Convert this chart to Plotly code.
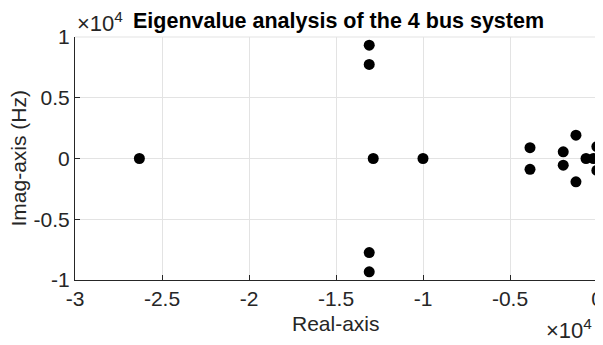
import plotly.graph_objects as go

# Eigenvalues (real part, imaginary part in Hz)
real_part = [-26300, -13090, -13090, -12860, -13090, -13090, -10000,
             -3850, -3850, -1940, -1940, -1210, -1210, -630, -210, -10, -10]
imag_part = [0, 9330, 7740, 0, -7740, -9330, 0,
             890, -890, 550, -550, 1920, -1920, 0, 0, 980, -980]

x_tickvals = [-30000, -25000, -20000, -15000, -10000, -5000, 0]
x_ticktext = ["-3", "-2.5", "-2", "-1.5", "-1", "-0.5", "0"]
y_tickvals = [-10000, -5000, 0, 5000, 10000]
y_ticktext = ["-1", "-0.5", "0", "0.5", "1"]

FONT = "Liberation Sans, Arial, sans-serif"
TXT = "#262626"
GRID = "#e3e3e3"

fig = go.Figure()
fig.add_trace(go.Scatter(
    x=real_part, y=imag_part, mode="markers",
    marker=dict(color="black", size=11, line=dict(width=0)),
    cliponaxis=False, showlegend=False,
))

# page body has an 8px margin, so the figure is 595x337
fig.update_layout(
    width=595, height=337,
    margin=dict(l=67, r=6, t=29, b=65),
    paper_bgcolor="white", plot_bgcolor="white",
    font=dict(family=FONT, size=21, color=TXT),
    xaxis=dict(range=[-30000, 0], tickvals=x_tickvals, ticktext=x_ticktext,
               automargin=False,
               showline=True, linecolor=TXT, linewidth=1, mirror=False,
               ticks="inside", ticklen=5, tickcolor=TXT,
               showgrid=True, gridcolor=GRID, zeroline=False,
               tickfont=dict(size=21, color=TXT)),
    yaxis=dict(range=[-10000, 10000], tickvals=y_tickvals, ticktext=y_ticktext,
               automargin=False,
               showline=True, linecolor=TXT, linewidth=1, mirror=False,
               ticks="inside", ticklen=5, tickcolor=TXT,
               showgrid=True, gridcolor=GRID, zeroline=False,
               tickfont=dict(size=21, color=TXT)),
    annotations=[
        # title
        dict(text="<b>Eigenvalue analysis of the 4 bus system</b>",
             xref="paper", yref="paper", x=0.107, y=1, xanchor="left",
             yanchor="bottom", yshift=2, showarrow=False,
             font=dict(size=21.5, color="black")),
        # axis titles
        dict(text="Real-axis", xref="paper", yref="paper", x=0.5, y=0,
             xanchor="center", yanchor="middle", yshift=-43, showarrow=False,
             font=dict(size=21, color=TXT)),
        dict(text="Imag-axis (Hz)", xref="paper", yref="paper", x=0, y=0.5,
             xanchor="center", yanchor="middle", xshift=-57, textangle=-90,
             showarrow=False, font=dict(size=21, color=TXT)),
        # exponent labels
        dict(text="×10<sup>4</sup>", xref="paper", yref="paper", x=0, y=1,
             xanchor="left", yanchor="bottom", yshift=-1, showarrow=False,
             font=dict(size=22, color=TXT)),
        dict(text="×10<sup>4</sup>", xref="paper", yref="paper", x=1, y=0,
             xanchor="right", yanchor="top", xshift=-3, yshift=-33, showarrow=False,
             font=dict(size=22, color=TXT)),
    ],
)

# light lines at the top and right limits
fig.add_shape(type="line", xref="paper", yref="paper", x0=0, x1=1, y0=1, y1=1,
              line=dict(color=GRID, width=1), layer="below")
fig.add_shape(type="line", xref="paper", yref="paper", x0=1, x1=1, y0=0, y1=1,
              line=dict(color=GRID, width=1), layer="below")

fig.write_html("out.html")
